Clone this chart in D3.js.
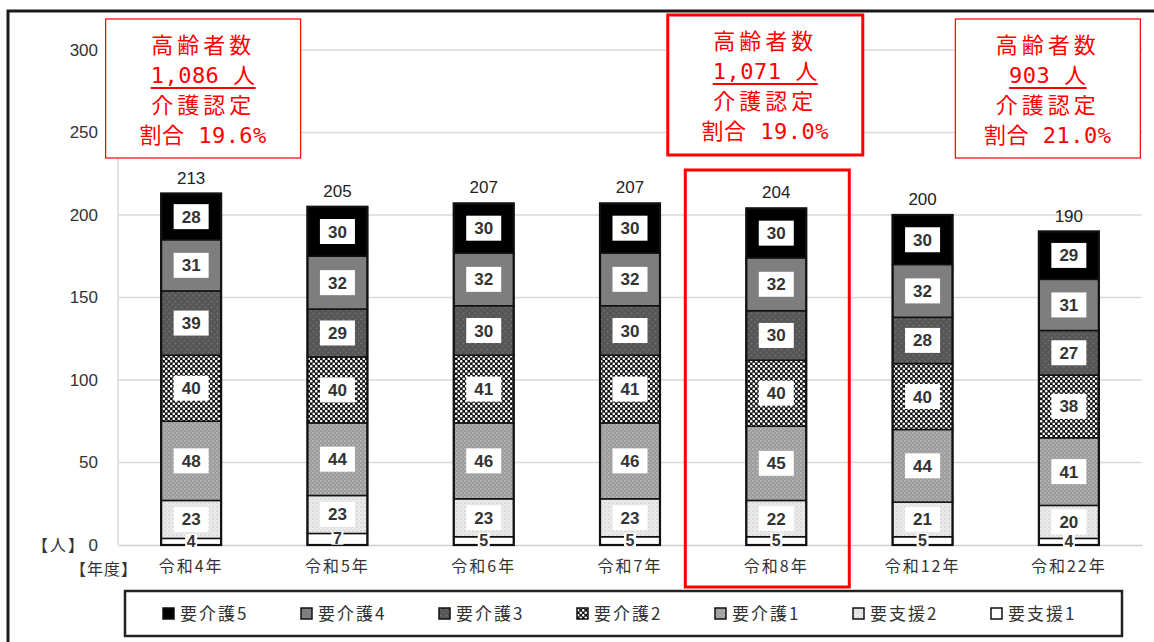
<!DOCTYPE html>
<html>
<head>
<meta charset="utf-8">
<script src="https://cdn.jsdelivr.net/npm/d3@7"></script>
<style>
  body { margin: 0; background: #fff; }
  svg { display: block; font-family: "Liberation Sans", Arial, sans-serif; }
  .jp { font-family: "Noto Sans CJK JP", sans-serif; }
  .note { font-family: "DejaVu Sans Mono", "Noto Sans CJK JP", monospace; }
</style>
</head>
<body>
<svg id="chart" width="1154" height="642"></svg>
<script>
// data (bottom to top in each bar)
const years = ['令和4年', '令和5年', '令和6年', '令和7年', '令和8年', '令和12年', '令和22年'];
const series = ['要支援1', '要支援2', '要介護1', '要介護2', '要介護3', '要介護4', '要介護5'];
const shien1 = [4, 7, 5, 5, 5, 5, 4];
const shien2 = [23, 23, 23, 23, 22, 21, 20];
const kaigo1 = [48, 44, 46, 46, 45, 44, 41];
const kaigo2 = [40, 40, 41, 41, 40, 40, 38];
const kaigo3 = [39, 29, 30, 30, 30, 28, 27];
const kaigo4 = [31, 32, 32, 32, 32, 32, 31];
const kaigo5 = [28, 30, 30, 30, 30, 30, 29];
const yTicks = [0, 50, 100, 150, 200, 250, 300];
const legendOrder = ['要介護5', '要介護4', '要介護3', '要介護2', '要介護1', '要支援2', '要支援1'];

// callout boxes: which bar they sit near, and text
const notes = [
  { year: '令和4年', elderly: '1,086 人', rate: '割合 19.6%', bold: false },
  { year: '令和8年', elderly: '1,071 人', rate: '割合 19.0%', bold: true },
  { year: '令和22年', elderly: '903 人', rate: '割合 21.0%', bold: false }
];
const highlightYear = '令和8年';

const values = [shien1, shien2, kaigo1, kaigo2, kaigo3, kaigo4, kaigo5];
const rows = years.map((yr, i) => {
  const r = { year: yr };
  series.forEach((s, j) => r[s] = values[j][i]);
  return r;
});

const svg = d3.select('#chart');
const plotLeft = 118, plotRight = 1142, plotTop = 50, plotBottom = 545;

const x = d3.scaleBand().domain(years).range([plotLeft, plotRight])
  .paddingInner(0.59).paddingOuter(0.295);
const y = d3.scaleLinear().domain([0, 300]).range([plotBottom, plotTop]);

// patterns
const defs = svg.append('defs');
function pat(id, size) {
  return defs.append('pattern').attr('id', id).attr('patternUnits', 'userSpaceOnUse')
    .attr('width', size).attr('height', size);
}
let p = pat('p-k3', 6);
p.append('rect').attr('width', 6).attr('height', 6).attr('fill', '#555');
p.append('circle').attr('cx', 1.5).attr('cy', 1.5).attr('r', 1.1).attr('fill', '#707070');
p.append('circle').attr('cx', 4.5).attr('cy', 4.5).attr('r', 1.1).attr('fill', '#6a6a6a');
p = pat('p-k2', 5);
p.append('rect').attr('width', 5).attr('height', 5).attr('fill', '#111');
p.append('circle').attr('cx', 1.25).attr('cy', 1.25).attr('r', 1.3).attr('fill', '#fff');
p.append('circle').attr('cx', 3.75).attr('cy', 3.75).attr('r', 1.3).attr('fill', '#fff');
p = pat('p-k1', 4);
p.append('rect').attr('width', 4).attr('height', 4).attr('fill', '#9a9a9a');
p.append('circle').attr('cx', 1).attr('cy', 1).attr('r', 0.8).attr('fill', '#d0d0d0');
p.append('circle').attr('cx', 3).attr('cy', 3).attr('r', 0.7).attr('fill', '#c4c4c4');
p = pat('p-s2', 4);
p.append('rect').attr('width', 4).attr('height', 4).attr('fill', '#ebebeb');
p.append('circle').attr('cx', 1).attr('cy', 3).attr('r', 0.7).attr('fill', '#bdbdbd');
p.append('circle').attr('cx', 3).attr('cy', 1).attr('r', 0.6).attr('fill', '#cfcfcf');

const fills = {
  '要支援1': '#fff',
  '要支援2': 'url(#p-s2)',
  '要介護1': 'url(#p-k1)',
  '要介護2': 'url(#p-k2)',
  '要介護3': 'url(#p-k3)',
  '要介護4': '#7e7e7e',
  '要介護5': '#000'
};

// outer frame
svg.append('path').attr('d', 'M8,642 V11 H1154')
  .attr('fill', 'none').attr('stroke', '#1a1a1a').attr('stroke-width', 3);

// grid
svg.append('g').selectAll('line').data(yTicks.filter(d => d > 0)).enter().append('line')
  .attr('x1', plotLeft).attr('x2', plotRight)
  .attr('y1', d => y(d)).attr('y2', d => y(d))
  .attr('stroke', '#d9d9d9').attr('stroke-width', 1.5);
svg.append('line').attr('x1', plotLeft).attr('x2', plotLeft)
  .attr('y1', plotTop).attr('y2', plotBottom).attr('stroke', '#d9d9d9').attr('stroke-width', 1.5);

// y axis labels
const yAxis = d3.axisLeft(y).tickValues(yTicks).tickSize(0).tickPadding(0);
const gy = svg.append('g').attr('transform', `translate(98,0)`).call(yAxis);
gy.select('.domain').remove();
gy.selectAll('text').attr('font-size', 17).attr('fill', '#333')
  .attr('font-family', '"Liberation Sans", Arial, sans-serif');

// x axis
const xAxis = d3.axisBottom(x).tickSize(0).tickPadding(16);
const gx = svg.append('g').attr('transform', `translate(0,${plotBottom})`).call(xAxis);
gx.select('.domain').attr('stroke', '#cfcfcf').attr('stroke-width', 1.5);
gx.selectAll('text').attr('font-size', 16).attr('fill', '#333').attr('letter-spacing', 2)
  .attr('font-family', '"Noto Sans CJK JP", sans-serif');

// unit labels
svg.append('text').attr('class', 'jp').attr('x', 86).attr('y', plotBottom + 6)
  .attr('text-anchor', 'end').attr('font-size', 16).attr('letter-spacing', 2)
  .attr('fill', '#333').text('【人】');
svg.append('text').attr('class', 'jp').attr('x', 138).attr('y', plotBottom + 30)
  .attr('text-anchor', 'end').attr('font-size', 16).attr('letter-spacing', 1)
  .attr('fill', '#333').text('【年度】');

// stacked bars
const stacked = d3.stack().keys(series)(rows);
const layers = svg.append('g').selectAll('g').data(stacked).enter().append('g')
  .attr('fill', d => fills[d.key]);

layers.selectAll('rect').data(d => d).enter().append('rect')
  .attr('x', d => x(d.data.year))
  .attr('width', x.bandwidth())
  .attr('y', d => y(d[1]))
  .attr('height', d => y(d[0]) - y(d[1]))
  .attr('stroke', '#111').attr('stroke-width', 1.5);

// bar outlines
svg.append('g').selectAll('rect').data(rows).enter().append('rect')
  .attr('x', d => x(d.year))
  .attr('width', x.bandwidth())
  .attr('y', d => y(d3.sum(series, s => d[s])))
  .attr('height', d => plotBottom - y(d3.sum(series, s => d[s])))
  .attr('fill', 'none').attr('stroke', '#111').attr('stroke-width', 2.2);

// segment labels
const labels = svg.append('g');
stacked.forEach(layer => {
  layer.forEach(d => {
    const v = d[1] - d[0];
    const cx = x(d.data.year) + x.bandwidth() / 2;
    const cy = (y(d[0]) + y(d[1])) / 2;
    const small = v < 10;
    const w = small ? 12 : 35, h = small ? 13 : 25;
    labels.append('rect').attr('x', cx - w / 2).attr('y', small ? cy - h / 2 - 1 : cy - h / 2)
      .attr('width', w).attr('height', h).attr('fill', '#fff');
    labels.append('text').attr('x', cx).attr('y', cy + (small ? 5 : 6))
      .attr('text-anchor', 'middle').attr('font-size', small ? 16 : 17).attr('font-weight', 'bold')
      .attr('fill', '#333').text(v);
  });
});

// totals
svg.append('g').selectAll('text').data(rows).enter().append('text')
  .attr('x', d => x(d.year) + x.bandwidth() / 2)
  .attr('y', d => y(d3.sum(series, s => d[s])) - 10)
  .attr('text-anchor', 'middle').attr('font-size', 17).attr('fill', '#222')
  .text(d => d3.sum(series, s => d[s]));

// highlight frame around one year
const hx = x(highlightYear) + x.bandwidth() / 2;
svg.append('rect').attr('x', hx - 91).attr('y', 170).attr('width', 164).attr('height', 417)
  .attr('fill', 'none').attr('stroke', '#f00').attr('stroke-width', 3);

// callouts
const noteOffset = { '令和4年': 12, '令和8年': -11, '令和22年': -21 };
const noteWidth = { '令和4年': 195, '令和8年': 195, '令和22年': 185 };
notes.forEach(n => {
  const cx = x(n.year) + x.bandwidth() / 2 + noteOffset[n.year];
  const top = n.bold ? 15 : 19;
  const w = noteWidth[n.year], h = n.bold ? 140 : 139;
  const g = svg.append('g').attr('class', 'note');
  g.append('rect').attr('x', cx - w / 2).attr('y', top).attr('width', w).attr('height', h)
    .attr('fill', '#fff').attr('stroke', '#f00').attr('stroke-width', n.bold ? 3 : 1.2);
  const lines = ['高齢者数', n.elderly, '介護認定', n.rate];
  lines.forEach((t, i) => {
    const ty = top + 34 + i * 30;
    const txt = g.append('text').attr('x', cx).attr('y', ty).attr('text-anchor', 'middle')
      .attr('font-size', 22).attr('letter-spacing', i % 2 === 0 ? 4 : 0.5)
      .attr('fill', '#f00').text(t);
    if (i === 1) {
      const bw = txt.node().getComputedTextLength();
      g.append('line').attr('x1', cx - bw / 2).attr('x2', cx + bw / 2)
        .attr('y1', ty + 5).attr('y2', ty + 5).attr('stroke', '#f00').attr('stroke-width', 2);
    }
  });
});

// legend
const lg = svg.append('g');
lg.append('rect').attr('x', 125).attr('y', 591).attr('width', 997).attr('height', 45)
  .attr('fill', '#fff').attr('stroke', '#222').attr('stroke-width', 2.5);
const li = lg.selectAll('g').data(legendOrder).enter().append('g')
  .attr('transform', (d, i) => `translate(${163 + i * 138},614)`);
li.append('rect').attr('x', 0).attr('y', -6).attr('width', 11).attr('height', 11)
  .attr('fill', d => fills[d]).attr('stroke', '#111').attr('stroke-width', 1.5);
li.append('text').attr('class', 'jp').attr('x', 17).attr('y', 6)
  .attr('font-size', 17).attr('letter-spacing', 2).attr('fill', '#333').text(d => d);
</script>
</body>
</html>
